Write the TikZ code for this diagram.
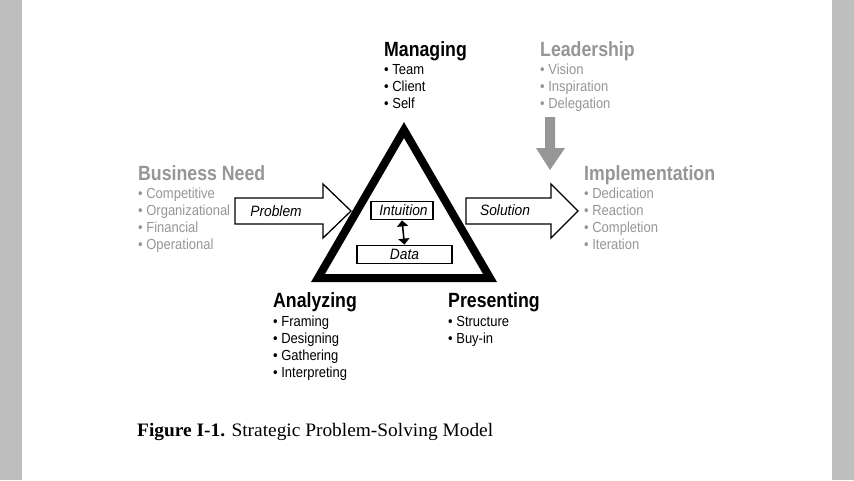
\documentclass[tikz,border=0pt]{standalone}
\usepackage{fontspec}
\setmainfont{Liberation Sans}
\newfontfamily\headfont[FakeStretch=0.86]{Liberation Sans}
\newfontfamily\itemfont[FakeStretch=0.89]{Liberation Sans}
\newfontfamily\lblfont[FakeStretch=0.92]{Liberation Sans}
\newfontfamily\capfont[FakeStretch=1.02]{Liberation Serif}
\usetikzlibrary{arrows.meta}
\definecolor{strip}{RGB}{190,190,190}
\definecolor{softgray}{RGB}{150,150,150}
\tikzset{
  head/.style={anchor=base west, inner sep=0pt, font=\headfont\bfseries\fontsize{20.6}{24}\selectfont},
  itm/.style={anchor=base west, inner sep=0pt, font=\itemfont\fontsize{14.6}{17}\selectfont},
  lbl/.style={inner sep=0pt, font=\lblfont\itshape\fontsize{15}{17}\selectfont},
  boxed/.style={draw=black, line width=1.8pt, fill=white, inner sep=0pt},
  blockarrow/.style={draw=black, line width=1.3pt, fill=white, line join=miter},
}
\begin{document}
\begin{tikzpicture}[x=1pt,y=-1pt]
\useasboundingbox (0,0) rectangle (854,480);
\fill[white] (0,0) rectangle (854,480);
\fill[strip] (0,0) rectangle (22,480);
\fill[strip] (832,0) rectangle (854,480);

% triangle
\draw[line width=8pt, line join=miter, miter limit=10] (404,130) -- (490,278) -- (318,278) -- cycle;

% block arrows
\draw[blockarrow] (235,198) -- (323,198) -- (323,184) -- (351,211) -- (323,238) -- (323,224) -- (235,224) -- cycle;
\node[lbl] (prob) at (276,211) {Problem};
\draw[blockarrow] (466,198) -- (551,198) -- (551,184) -- (578,211) -- (551,238) -- (551,224) -- (466,224) -- cycle;
\node[lbl] (sol) at (505,210) {Solution};

% gray down arrow
\fill[softgray] (545,117) -- (555,117) -- (555,148) -- (565,148) -- (550,170) -- (536,148) -- (545,148) -- cycle;

% inner boxes
\node[boxed, minimum width=62pt, minimum height=18pt, lbl] (intu) at (402,210.5) {\hspace{3pt}Intuition};
\node[boxed, minimum width=95pt, minimum height=18pt, lbl] (data) at (404.5,254.5) {Data};
\draw[line width=1.6pt, {Triangle[width=11pt,length=6pt]}-{Triangle[width=11pt,length=6pt]}] (intu.south) -- (data.north);

% Managing
\node[head] (man) at (384,56) {Managing};
\foreach \t [count=\i] in {Team, Client, Self}
  \node[itm] (man\i) at (384,57+17*\i) {• \t};
% Leadership
\node[head, softgray] (lead) at (540,56) {Leadership};
\foreach \t [count=\i] in {Vision, Inspiration, Delegation}
  \node[itm, softgray] (lead\i) at (540,57+17*\i) {• \t};
% Business Need
\node[head, softgray] (bn) at (138,180) {Business Need};
\foreach \t [count=\i] in {Competitive, Organizational, Financial, Operational}
  \node[itm, softgray] (bn\i) at (138,181+17*\i) {• \t};
% Implementation
\node[head, softgray] (imp) at (584,180) {Implementation};
\foreach \t [count=\i] in {Dedication, Reaction, Completion, Iteration}
  \node[itm, softgray] (imp\i) at (584,181+17*\i) {• \t};
% Analyzing
\node[head] (ana) at (273,307) {Analyzing};
\foreach \t [count=\i] in {Framing, Designing, Gathering, Interpreting}
  \node[itm] (ana\i) at (273,309+17*\i) {• \t};
% Presenting
\node[head] (pres) at (448,307) {Presenting};
\foreach \t [count=\i] in {Structure, Buy-in}
  \node[itm] (pres\i) at (448,309+17*\i) {• \t};

% caption
\node[anchor=base west, inner sep=0pt, font=\capfont\fontsize{19}{22}\selectfont] (cap) at (137,436) {\textbf{Figure I-1.} Strategic Problem-Solving Model};
\end{tikzpicture}
\end{document}
